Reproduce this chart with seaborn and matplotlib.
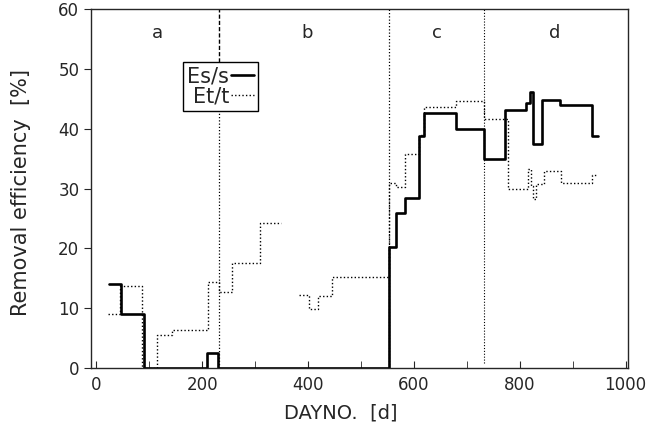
import numpy as np
import pandas as pd
import matplotlib
matplotlib.use("Agg")
import matplotlib.pyplot as plt
import seaborn as sns
from matplotlib.lines import Line2D
from matplotlib.ticker import MultipleLocator

# --- data (step functions, value holds until next day) ---
es_day = [23, 47, 89, 209, 230, 552, 566, 583, 610, 620, 680, 733, 772, 811, 820, 826, 843, 877, 936, 947]
es_val = [14.1, 9.0, 0.0, 2.5, 0.0, 20.2, 25.9, 28.5, 38.7, 42.6, 40.0, 35.0, 43.2, 44.3, 46.2, 37.5, 44.8, 44.0, 38.8, 38.8]

et1_day = [21, 45, 87, 115, 143, 211, 232, 257, 309, 349]
et1_val = [9.1, 13.7, 0.0, 5.5, 6.4, 14.4, 12.7, 17.5, 24.3, 24.3]
et2_day = [383, 402, 419, 445, 552, 566, 583, 609, 619, 680, 733, 778, 816, 822, 825, 831, 845, 878, 936, 944]
et2_val = [12.2, 9.8, 12.0, 15.3, 31.0, 30.2, 35.8, 38.9, 43.6, 44.6, 41.7, 30.0, 33.2, 30.5, 28.2, 30.8, 33.0, 31.0, 32.3, 32.3]

phase_names = ["a", "b", "c", "d"]
phase_label_day = [115, 398, 643, 866]
phase_bounds = [232, 553, 733]

df_es = pd.DataFrame({"day": es_day, "eff": es_val, "seg": 0})
df_et = pd.concat([
    pd.DataFrame({"day": et1_day, "eff": et1_val, "seg": 0}),
    pd.DataFrame({"day": et2_day, "eff": et2_val, "seg": 1}),
], ignore_index=True)

sns.set_style("ticks")
plt.rcParams["font.family"] = ["DejaVu Sans"]

fig = plt.figure(figsize=(6.51, 4.28), dpi=100)
ax = fig.add_axes([0.140, 0.140, 0.825, 0.839])

dot = (0, (1, 1.6))

# phase dividers
ax.plot([phase_bounds[0]] * 2, [47, 60], color="black", lw=1.0, ls=(0, (3, 1.5)))
ax.plot([phase_bounds[0]] * 2, [0, 47], color="black", lw=0.9, ls=dot)
ax.plot([phase_bounds[1]] * 2, [0, 60], color="black", lw=0.9, ls=dot)
ax.plot([phase_bounds[2]] * 2, [0.8, 60], color="black", lw=0.8, ls=dot)

sns.lineplot(data=df_et, x="day", y="eff", units="seg", estimator=None, sort=False,
             drawstyle="steps-post", color="black", lw=1.0, ls=dot, ax=ax)
sns.lineplot(data=df_es, x="day", y="eff", units="seg", estimator=None, sort=False,
             drawstyle="steps-post", color="black", lw=1.9, ax=ax)

for name, d in zip(phase_names, phase_label_day):
    ax.text(d, 56, name, ha="center", va="center", fontsize=13)

ax.set_xlim(-10, 1005)
ax.set_ylim(0, 60)
ax.xaxis.set_major_locator(MultipleLocator(200))
ax.xaxis.set_minor_locator(MultipleLocator(100))
ax.yaxis.set_major_locator(MultipleLocator(10))
ax.tick_params(axis="x", which="both", direction="in", length=5, labelsize=12, pad=6)
ax.tick_params(axis="y", direction="out", length=5, labelsize=12)
for s in ax.spines.values():
    s.set_visible(True)
    s.set_linewidth(1.0)

ax.set_xlabel("DAYNO.  [d]", fontsize=14)
ax.xaxis.set_label_coords(0.464, -0.100)
ax.set_ylabel("Removal efficiency  [%]", fontsize=15)
ax.yaxis.set_label_coords(-0.112, 0.49)

handles = [Line2D([], [], color="black", lw=1.9),
           Line2D([], [], color="black", lw=1.0, ls=dot)]
leg = ax.legend(handles, ["Es/s", "Et/t"], loc="upper left", bbox_to_anchor=(0.152, 0.88),
                markerfirst=False, fontsize=15, handlelength=1.1, handletextpad=0.1,
                borderpad=0.2, labelspacing=0.0, fancybox=False, framealpha=1,
                edgecolor="black")
leg.get_frame().set_linewidth(1.0)

fig.savefig("out.png", dpi=100)
